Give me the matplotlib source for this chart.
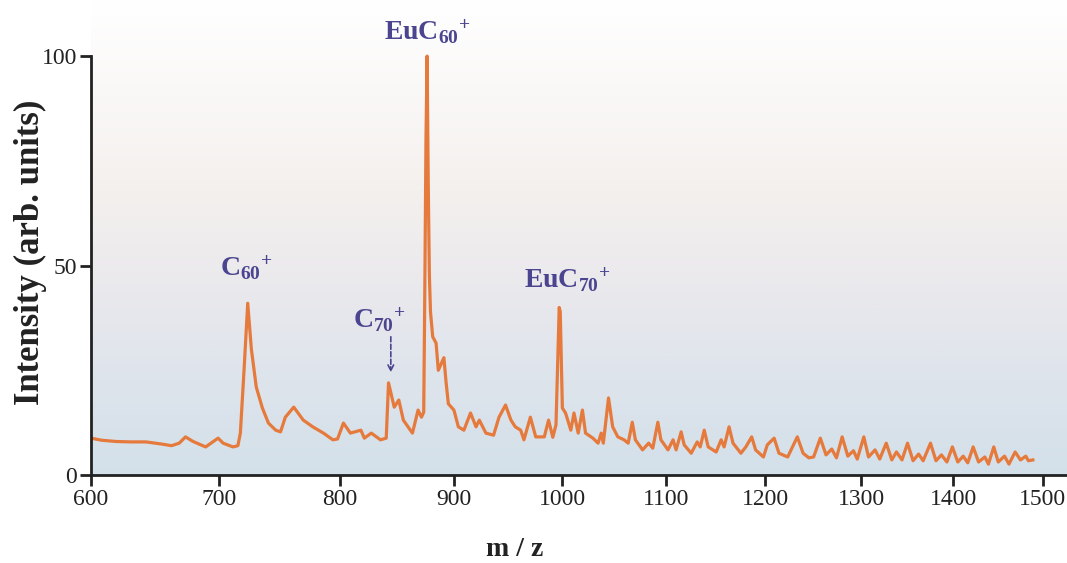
import numpy as np
import matplotlib
matplotlib.use("Agg")
import matplotlib.pyplot as plt
from matplotlib.colors import LinearSegmentedColormap

plt.rcParams['font.family'] = ['Liberation Serif', 'DejaVu Serif']
plt.rcParams['mathtext.fontset'] = 'custom'
plt.rcParams['mathtext.rm'] = 'Liberation Serif:bold'
plt.rcParams['mathtext.bf'] = 'Liberation Serif:bold'
plt.rcParams['mathtext.default'] = 'bf'

# spectrum (m/z, relative intensity)
mz = [600, 608, 619, 630, 642, 654, 662, 668, 673, 679, 689, 699, 703, 711, 715,
      717, 720, 723, 726, 730, 735, 740, 746, 750, 754, 761, 769, 777, 786, 794,
      798, 803, 809, 818, 821, 827, 835, 840, 842, 847, 851, 855, 863, 868, 871,
      873, 874, 875, 876, 877, 878, 879, 881, 884, 886, 891, 893, 895, 900, 904,
      909, 915, 920, 923, 929, 936, 941, 947, 952, 956, 961, 964, 970, 975, 983,
      987, 991, 994, 997, 998, 1000, 1003, 1008, 1011, 1015, 1019, 1022, 1029, 1034,
      1037, 1039, 1044, 1048, 1053, 1059, 1063, 1067, 1070, 1077, 1083, 1087, 1092,
      1095, 1102, 1107, 1110, 1115, 1118, 1125, 1131, 1134, 1138, 1142, 1150, 1155,
      1158, 1163, 1167, 1175, 1180, 1186, 1190, 1198, 1202, 1209, 1214, 1223, 1228,
      1233, 1239, 1245, 1250, 1257, 1263, 1269, 1274, 1280, 1286, 1292, 1296, 1303,
      1308, 1315, 1320, 1327, 1333, 1338, 1344, 1350, 1356, 1362, 1367, 1375, 1381,
      1387, 1393, 1399, 1405, 1411, 1416, 1422, 1428, 1435, 1439, 1445, 1450, 1457,
      1462, 1469, 1475, 1481, 1484, 1489]
intensity = [8.8, 8.3, 8.0, 7.9, 7.9, 7.4, 7.0, 7.6, 9.1, 8.0, 6.7, 8.8, 7.6, 6.7, 7.0,
             10.0, 25.0, 41.0, 30.0, 21.0, 16.0, 12.4, 10.7, 10.3, 13.8, 16.2, 13.1, 11.5, 10.0, 8.4,
             8.6, 12.4, 10.0, 10.7, 8.8, 10.0, 8.4, 8.8, 22.0, 16.2, 17.9, 13.1, 10.0, 15.5, 13.8,
             15.0, 45.0, 80.0, 100.0, 70.0, 48.0, 39.0, 33.0, 31.5, 25.0, 28.0, 22.0, 17.0, 15.5, 11.5,
             10.7, 14.8, 11.5, 13.1, 10.0, 9.5, 13.8, 16.7, 13.1, 11.5, 10.7, 8.4, 13.8, 9.1, 9.1,
             13.1, 9.0, 12.0, 40.0, 39.0, 16.0, 14.8, 10.7, 14.8, 10.0, 15.5, 10.0, 8.8, 7.6,
             10.0, 7.6, 18.4, 11.5, 9.1, 8.4, 7.6, 12.6, 8.4, 6.0, 7.6, 6.4, 12.6,
             8.4, 6.0, 8.4, 6.0, 10.3, 7.2, 5.2, 7.9, 6.7, 10.7, 6.7, 5.5, 8.4,
             6.7, 11.5, 7.6, 5.2, 6.7, 9.1, 6.0, 4.3, 7.2, 8.8, 5.2, 4.3, 6.7,
             9.1, 5.2, 4.1, 4.3, 8.8, 4.8, 6.2, 4.1, 9.1, 4.5, 5.8, 3.8, 9.1,
             4.3, 6.0, 3.8, 7.6, 3.6, 5.5, 3.6, 7.6, 3.4, 5.0, 3.4, 7.6, 3.4,
             4.8, 3.1, 6.7, 3.1, 4.5, 2.9, 6.7, 3.1, 4.3, 2.6, 6.7, 3.1, 4.5,
             2.6, 5.5, 3.6, 4.5, 3.4, 3.6]

xticks = [600, 700, 800, 900, 1000, 1100, 1200, 1300, 1400, 1500]
yticks = [0, 50, 100]

# peak labels: text, x, y
labels = [(r'C$_{60}{}^{+}$', 722, 49.5),
          (r'C$_{70}{}^{+}$', 834, 37.0),
          (r'EuC$_{60}{}^{+}$', 876, 105.8),
          (r'EuC$_{70}{}^{+}$', 1005, 46.5)]

label_color = '#4b4590'
line_color = '#e57a3c'

fig = plt.figure(figsize=(10.67, 5.63), dpi=100)
pos = [91 / 1067, 88 / 563, 976 / 1067, 475 / 563]

# background gradient
bg = fig.add_axes(pos, zorder=0)
cmap = LinearSegmentedColormap.from_list(
    'bg', [(0.0, '#d3e0ea'), (0.2, '#dee4ec'), (0.4, '#eae9ec'),
           (0.6, '#f4f0ee'), (0.8, '#faf8f7'), (1.0, '#ffffff')])
grad = np.linspace(0, 1, 256).reshape(-1, 1)
bg.imshow(grad, aspect='auto', cmap=cmap, origin='lower', extent=[0, 1, 0, 1])
bg.axis('off')

ax = fig.add_axes(pos, zorder=1)
ax.set_facecolor('none')
ax.set_xscale('function', functions=(lambda m: np.sqrt(np.clip(m + 100, 0, None)),
                                     lambda t: t ** 2 - 100))
ax.plot(mz, intensity, color=line_color, lw=2.3)

ax.set_xlim(600, 1528)
ax.set_ylim(0, 113.4)
ax.set_xticks(xticks)
ax.set_xticklabels([str(t) for t in xticks])
ax.set_yticks(yticks)
ax.set_yticklabels([str(t) for t in yticks])
ax.xaxis.set_minor_locator(plt.NullLocator())

for s in ['top', 'right']:
    ax.spines[s].set_visible(False)
ax.spines['left'].set_bounds(0, 100)
ax.spines['left'].set_linewidth(2)
ax.spines['bottom'].set_linewidth(2)
ax.spines['left'].set_color('#222222')
ax.spines['bottom'].set_color('#222222')
ax.tick_params(axis='both', direction='out', length=8, width=2, color='#222222',
               labelsize=17, labelcolor='#222222', pad=2)

for txt, x, y in labels:
    ax.text(x, y, txt, ha='center', va='center', fontsize=20, color=label_color,
            fontweight='bold', clip_on=False)

ax.annotate('', xy=(844, 24.5), xytext=(844, 33),
            arrowprops=dict(arrowstyle='->', color=label_color, lw=1.2,
                            linestyle=(0, (3, 1.5)), shrinkA=0, shrinkB=0))

fig.text(30 / 1067, 1 - 252 / 563, 'Intensity (arb. units)', rotation=90,
         ha='center', va='center', fontsize=25, fontweight='bold', color='#222222')
fig.text(515 / 1067, 1 - 549 / 563, 'm / z', ha='center', va='center',
         fontsize=20, fontweight='bold', color='#222222')

fig.savefig('out.png', dpi=100)
